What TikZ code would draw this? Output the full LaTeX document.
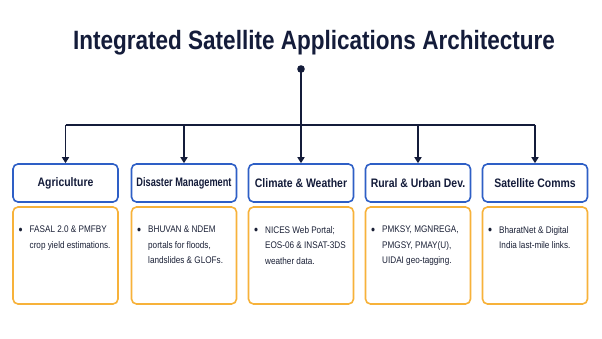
\documentclass[tikz,border=0pt]{standalone}
\usepackage{fontspec}
\setmainfont{Liberation Sans}[FakeStretch=0.85]
\usetikzlibrary{arrows.meta}
\definecolor{navy}{HTML}{141C3A}
\definecolor{bodytxt}{HTML}{1A2036}
\definecolor{hblue}{HTML}{2E5FC6}
\definecolor{amber}{HTML}{F7B23A}
\begin{document}
\begin{tikzpicture}[x=1pt,y=-1pt,
  hbox/.style={draw=hblue, line width=1.6pt, rounded corners=5pt, fill=white,
    minimum width=105pt, minimum height=38pt, inner sep=0pt, text=navy,
    font=\bfseries\fontsize{12.3}{14}\selectfont},
  bbox/.style={draw=amber, line width=1.6pt, rounded corners=5pt, fill=white,
    minimum width=105pt, minimum height=97pt, inner sep=0pt},
  btext/.style={anchor=north west, inner sep=0pt, align=left,
    text=bodytxt, font=\fontsize{9.6}{15.5}\selectfont},
  link/.style={draw=navy, line width=1.8pt},
  arr/.style={link, -{Triangle[width=7pt,length=6pt]}}
]
\path[use as bounding box, fill=white] (0,0) rectangle (602,339);
\newcommand{\bul}{\makebox[11pt][l]{\raisebox{-1.3pt}{\fontsize{13.5}{13.5}\selectfont •}}}
\newcommand{\ind}{\hspace*{11pt}}

\node[anchor=base, text=navy, inner sep=0pt,
  font=\bfseries\fontsize{26.5}{30}\selectfont] (title) at (314,50)
  {Integrated Satellite Applications Architecture};

\coordinate (dot) at (301,69);
\coordinate (busL) at (65.5,125);
\coordinate (busR) at (535,125);

\node[hbox] (h1) at (65.5,183) {Agriculture};
\node[hbox] (h2) at (184,183) {\scalebox{0.88}[1]{Disaster Management}};
\node[hbox] (h3) at (301,183) {Climate \& Weather};
\node[hbox] (h4) at (418,183) {Rural \& Urban Dev.};
\node[hbox] (h5) at (535,183) {Satellite Comms};

\node[bbox] (b1) at (65.5,255.5) {};
\node[bbox] (b2) at (184,255.5) {};
\node[bbox] (b3) at (301,255.5) {};
\node[bbox] (b4) at (418,255.5) {};
\node[bbox] (b5) at (535,255.5) {};

\node[btext] (t1) at (18.5,226) {\bul FASAL 2.0 \& PMFBY\\\ind crop yield estimations.};
\node[btext] (t2) at (137,226) {\bul BHUVAN \& NDEM\\\ind portals for floods,\\\ind landslides \& GLOFs.};
\node[btext] (t3) at (254,226) {\bul NICES Web Portal;\\\ind EOS-06 \& INSAT-3DS\\\ind weather data.};
\node[btext] (t4) at (371,226) {\bul PMKSY, MGNREGA,\\\ind PMGSY, PMAY(U),\\\ind UIDAI geo-tagging.};
\node[btext] (t5) at (488,226) {\bul BharatNet \& Digital\\\ind India last-mile links.};

\draw[link] (busL) -- (busR);
\draw[arr] (dot) -- (h3.north);
\draw[arr] (busL) -- (h1.north);
\draw[arr] (h2.north |- busL) -- (h2.north);
\draw[arr] (h4.north |- busL) -- (h4.north);
\draw[arr] (busR) -- (h5.north);
\fill[navy] (dot) circle (3.8pt);
\end{tikzpicture}
\end{document}
